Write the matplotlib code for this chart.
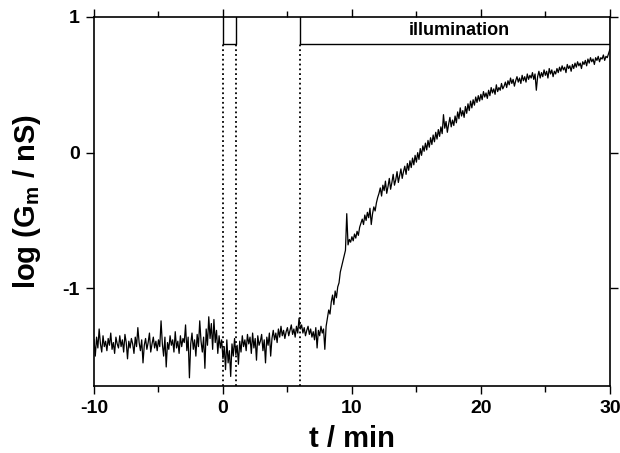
import numpy as np
import matplotlib
matplotlib.use('Agg')
from matplotlib import pyplot as plt
from matplotlib.ticker import MultipleLocator

plt.rcParams['font.family'] = ['Liberation Sans', 'DejaVu Sans']
plt.rcParams['font.weight'] = 'bold'
plt.rcParams['mathtext.default'] = 'regular'
plt.rcParams['axes.unicode_minus'] = False

# time axis in minutes, step 0.1 min
t = np.linspace(-10, 30, 401)

# log conductance (one row = 1 min)
log_g = [
    -1.38, -1.50, -1.36, -1.44, -1.30, -1.41, -1.47, -1.35, -1.43, -1.39,
    -1.46, -1.37, -1.42, -1.33, -1.45, -1.40, -1.48, -1.36, -1.41, -1.44,
    -1.35, -1.43, -1.38, -1.47, -1.34, -1.40, -1.52, -1.39, -1.44, -1.37,
    -1.41, -1.48, -1.36, -1.43, -1.29, -1.40, -1.46, -1.38, -1.55, -1.42,
    -1.37, -1.45, -1.40, -1.33, -1.47, -1.41, -1.36, -1.44, -1.39, -1.46,
    -1.38, -1.43, -1.24, -1.41, -1.50, -1.36, -1.58, -1.40, -1.45, -1.35,
    -1.42, -1.38, -1.47, -1.32, -1.44, -1.39, -1.48, -1.35, -1.43, -1.37,
    -1.40, -1.27, -1.46, -1.36, -1.66, -1.41, -1.33, -1.45, -1.38, -1.50,
    -1.34, -1.43, -1.24, -1.39, -1.47, -1.36, -1.59, -1.30, -1.42, -1.21,
    -1.37, -1.26, -1.45, -1.23, -1.40, -1.31, -1.48, -1.35, -1.44, -1.38,
    -1.52, -1.43, -1.60, -1.38, -1.55, -1.46, -1.65, -1.41, -1.50, -1.37,
    -1.49, -1.42, -1.56, -1.39, -1.47, -1.35, -1.43, -1.38, -1.46, -1.34,
    -1.41, -1.36, -1.48, -1.33, -1.44, -1.37, -1.53, -1.35, -1.42, -1.39,
    -1.34, -1.46, -1.38, -1.55, -1.36, -1.42, -1.33, -1.50, -1.37, -1.31,
    -1.38, -1.33, -1.40, -1.30, -1.36, -1.28, -1.35, -1.31, -1.37, -1.32,
    -1.29, -1.35, -1.31, -1.27, -1.34, -1.30, -1.36, -1.28, -1.33, -1.22,
    -1.30, -1.27, -1.33, -1.29, -1.35, -1.31, -1.28, -1.34, -1.30, -1.36,
    -1.32, -1.38, -1.29, -1.44, -1.31, -1.35, -1.28, -1.33, -1.30, -1.45,
    -1.28, -1.22, -1.16, -1.19, -1.10, -1.05, -1.12, -1.02, -1.07, -0.99,
    -0.96, -0.88, -0.84, -0.80, -0.76, -0.72, -0.45, -0.68, -0.64, -0.66,
    -0.62, -0.65, -0.60, -0.63, -0.58, -0.61, -0.55, -0.52, -0.49, -0.53,
    -0.46, -0.50, -0.44, -0.48, -0.41, -0.53, -0.45, -0.40, -0.43, -0.37,
    -0.33, -0.30, -0.26, -0.32, -0.24, -0.28, -0.21, -0.30, -0.25, -0.19,
    -0.27, -0.22, -0.16, -0.24, -0.20, -0.14, -0.22, -0.17, -0.12, -0.19,
    -0.14, -0.10, -0.16, -0.08, -0.13, -0.06, -0.11, -0.04, -0.09, -0.02,
    -0.07, 0.00, -0.05, 0.03, -0.02, 0.05, 0.01, 0.07, 0.02, 0.09,
    0.04, 0.11, 0.06, 0.13, 0.08, 0.15, 0.10, 0.17, 0.12, 0.19,
    0.14, 0.28, 0.18, 0.23, 0.15, 0.21, 0.26, 0.19, 0.24, 0.20,
    0.27, 0.22, 0.30, 0.25, 0.33, 0.27, 0.31, 0.26, 0.34, 0.29,
    0.36, 0.31, 0.38, 0.33, 0.39, 0.35, 0.41, 0.37, 0.42, 0.38,
    0.43, 0.39, 0.45, 0.41, 0.44, 0.40, 0.46, 0.42, 0.48, 0.44,
    0.47, 0.43, 0.50, 0.45, 0.48, 0.46, 0.51, 0.47, 0.49, 0.52,
    0.48, 0.53, 0.50, 0.55, 0.51, 0.54, 0.49, 0.53, 0.56, 0.52,
    0.55, 0.51, 0.57, 0.53, 0.56, 0.52, 0.58, 0.54, 0.57, 0.55,
    0.59, 0.54, 0.58, 0.46, 0.56, 0.60, 0.55, 0.59, 0.56, 0.61,
    0.57, 0.60, 0.55, 0.62, 0.58, 0.61, 0.56, 0.60, 0.58, 0.62,
    0.59, 0.63, 0.60, 0.64, 0.61, 0.63, 0.59, 0.65, 0.62, 0.64,
    0.60, 0.65, 0.62, 0.66, 0.63, 0.67, 0.64, 0.66, 0.62, 0.67,
    0.65, 0.68, 0.64, 0.69, 0.66, 0.70, 0.67, 0.69, 0.65, 0.70,
    0.68, 0.71, 0.67, 0.70, 0.69, 0.72, 0.68, 0.71, 0.70, 0.73,
    0.76,
]

# illumination periods (start, end) in minutes
illum_start = [0, 6]
illum_end = [1, 30]
box_bottom = 0.8
box_top = 1.0

fig = plt.figure(figsize=(6.2, 4.53), dpi=100)
ax = fig.add_axes([0.1516, 0.148, 0.832, 0.8145])

ax.plot(t, log_g, color='black', lw=0.9)

# dotted markers at start/end of illumination
for x in [illum_start[0], illum_end[0], illum_start[1]]:
    ax.plot([x, x], [-1.72, box_bottom], color='black', ls=':', lw=1.3)

# illumination boxes at the top
for s, e in zip(illum_start, illum_end):
    ax.plot([s, s, e, e], [box_top, box_bottom, box_bottom, box_top],
            color='black', lw=1.0)
ax.text(18.3, 0.9, 'illumination', ha='center', va='center',
        fontsize=13, fontweight='bold')

ax.set_xlim(-10, 30)
ax.set_ylim(-1.72, 1.0)
ax.xaxis.set_major_locator(MultipleLocator(10))
ax.xaxis.set_minor_locator(MultipleLocator(5))
ax.yaxis.set_major_locator(MultipleLocator(1))
ax.tick_params(which='both', direction='out', top=True, right=True,
               width=1.0, labelsize=14, pad=4)
ax.tick_params(which='major', length=6)
ax.tick_params(which='minor', length=4)
for sp in ax.spines.values():
    sp.set_linewidth(1.2)

ax.set_xlabel('t / min', fontsize=21, fontweight='bold', labelpad=6)
ax.set_ylabel('log (G$_{m}$ / nS)', fontsize=21, fontweight='bold', labelpad=14)

plt.savefig('out.png', dpi=100)
